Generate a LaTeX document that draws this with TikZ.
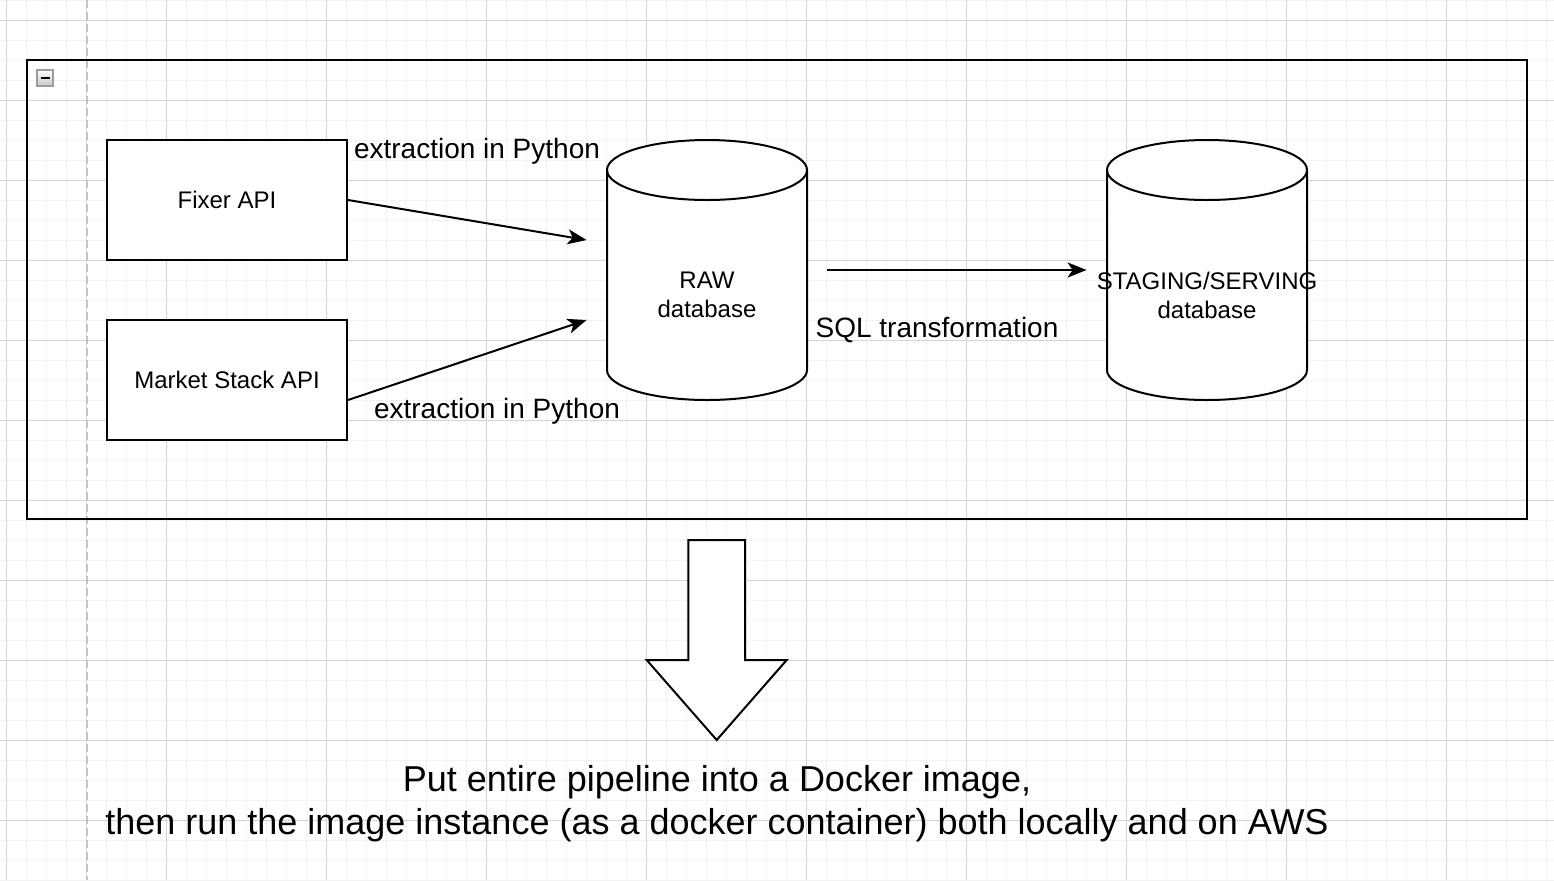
\documentclass[tikz,border=0pt]{standalone}
\usepackage{fontspec}
\setmainfont{Liberation Sans}
\usepackage{tikz}
\usetikzlibrary{arrows.meta, positioning}
\definecolor{GridMinor}{RGB}{243, 243, 243}
\definecolor{GridMajor}{RGB}{212, 212, 212}
\definecolor{PageEdge}{RGB}{196, 196, 196}
\definecolor{IconEdge}{RGB}{150, 156, 170}

\tikzset{
  apibox/.style={draw, fill=white, line width=1pt, minimum width=120pt, minimum height=60pt, inner sep=0pt, font=\fontsize{12}{14.5}\selectfont},
  dbcyl/.style={minimum width=102pt, minimum height=132pt, inner sep=0pt,
    path picture={
      \draw[line width=1pt, fill=white] ([xshift=1pt, yshift=-16pt]path picture bounding box.north west) -- ++(0,-100pt)
        arc[start angle=180, end angle=360, x radius=50pt, y radius=15pt] -- ++(0,100pt)
        arc[start angle=0, end angle=180, x radius=50pt, y radius=15pt] -- cycle;
      \draw[line width=1pt] ([xshift=1pt, yshift=-16pt]path picture bounding box.north west)
        arc[start angle=180, end angle=360, x radius=50pt, y radius=15pt];
    }},
  dblabel/.style={align=center, yshift=-12.5pt, inner sep=0pt, font=\fontsize{12}{14.5}\selectfont},
  flow/.style={line width=1pt, -{Stealth[length=9.5pt, width=7.5pt, inset=2.5pt]}},
  edgetext/.style={inner sep=0pt, font=\fontsize{14}{17}\selectfont},
}

\begin{document}
\begin{tikzpicture}[x=0.5pt, y=-0.5pt]
                \useasboundingbox (0,0) rectangle (1554,880);
                \fill[white] (0,0) rectangle (1554,880);

                % Grid
                \foreach \gx in {6.7,26.7,...,1554} \draw[GridMinor, line width=0.5pt] (\gx,0) -- (\gx,880);
                \foreach \gy in {0,20,...,880} \draw[GridMinor, line width=0.5pt] (0,\gy) -- (1554,\gy);
                \foreach \gx in {6.7,166.7,...,1554} \draw[GridMajor, line width=0.5pt] (\gx,0) -- (\gx,880);
                \foreach \gy in {20,100,...,880} \draw[GridMajor, line width=0.5pt] (0,\gy) -- (1554,\gy);
                \draw[GridMajor, line width=0.5pt] (86.7,0) -- (86.7,880);
                \draw[PageEdge, line width=1pt, dash pattern=on 4pt off 2pt] (86.7,0) -- (86.7,880);

                % Pipeline frame
                \draw[line width=1pt] (27,60) rectangle (1527,519);
                \draw[IconEdge, line width=0.75pt, top color=white, bottom color=black!22] (37,70) rectangle (53,86);
                \draw[line width=1.2pt] (40.5,78) -- (49.5,78);

                % Sources and databases
                \node[apibox] (fixer) at (227,200) {Fixer API};
                \node[apibox, below=29pt of fixer] (market) {Market Stack API};
                \node[dbcyl, label={[dblabel]center:RAW\\database}] (raw) at (707,270) {};
                \node[dbcyl, label={[dblabel]center:STAGING/SERVING\\database}] (stage) at (1207,270) {};

                % Connectors
                \draw[flow] (fixer.east) -- ([xshift=-9pt, yshift=15pt]raw.west);
                \draw[flow] ([yshift=-10pt]market.east) -- ([xshift=-9pt, yshift=-25pt]raw.west);
                \draw[flow] ([xshift=9pt]raw.east) -- ([xshift=-9pt]stage.west);

                % Labels
                \node[edgetext] (extractA) at (477,151) {extraction in Python};
                \node[edgetext] (extractB) at (497,411) {extraction in Python};
                \node[edgetext] (sqlstep) at (937,330) {SQL transformation};

                % Docker arrow
                \draw[line width=1pt, fill=white] (688.3,540) -- (745,540) -- (745,660) -- (786.7,660) -- (716.7,740) -- (646.7,660) -- (688.3,660) -- cycle;
                \node[align=center, inner sep=0pt, font=\fontsize{18}{21.5}\selectfont] (docker) at (717,804)
                    {Put entire pipeline into a Docker image,\\then run the image instance (as a docker container) both locally and on AWS};
            \end{tikzpicture}
\end{document}
